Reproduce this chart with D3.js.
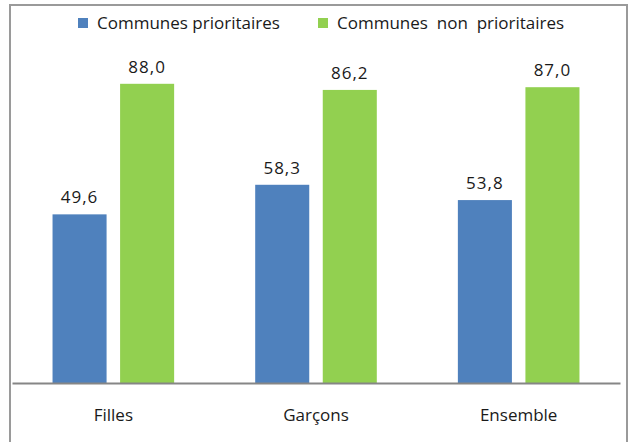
<!DOCTYPE html>
<html>
<head>
<meta charset="utf-8">
<script src="https://cdn.jsdelivr.net/npm/d3@7"></script>
<style>
  body { margin: 0; background: #fff; }
  text { font-family: "Open Sans", "Noto Sans", sans-serif; fill: #1a1a1a; }
</style>
</head>
<body>
<svg id="chart" width="629" height="442"></svg>
<script>
var categories = ["Filles", "Garçons", "Ensemble"];
var seriesNames = ["Communes prioritaires", "Communes  non  prioritaires"];
var prioritaires = [49.6, 58.3, 53.8];
var nonPrioritaires = [88.0, 86.2, 87.0];
var colors = ["#4f81bd", "#92d050"];

var svg = d3.select("#chart");

// outer frame (bottom edge falls outside the picture)
svg.append("rect")
  .attr("x", 10).attr("y", 5)
  .attr("width", 617).attr("height", 460)
  .attr("fill", "none")
  .attr("stroke", "#9a9a9a")
  .attr("stroke-width", 2);

var x0 = d3.scaleBand()
  .domain(categories)
  .range([12, 620])
  .paddingInner(0.4)
  .paddingOuter(0.2);

var x1 = d3.scaleBand()
  .domain([0, 1])
  .range([0, x0.bandwidth()])
  .paddingInner(0.2);

var y = d3.scaleLinear()
  .domain([0, 100])
  .range([383, 43]);

var groups = svg.selectAll("g.grp")
  .data(categories)
  .enter().append("g")
    .attr("class", "grp")
    .attr("transform", function(d) { return "translate(" + x0(d) + ",0)"; });

groups.selectAll("rect")
  .data(function(d, i) { return [prioritaires[i], nonPrioritaires[i]]; })
  .enter().append("rect")
    .attr("x", function(d, j) { return x1(j); })
    .attr("y", function(d) { return y(d); })
    .attr("width", x1.bandwidth())
    .attr("height", function(d) { return y(0) - y(d); })
    .attr("fill", function(d, j) { return colors[j]; });

groups.selectAll("text.val")
  .data(function(d, i) { return [prioritaires[i], nonPrioritaires[i]]; })
  .enter().append("text")
    .attr("class", "val")
    .attr("x", function(d, j) { return x1(j) + x1.bandwidth() / 2; })
    .attr("y", function(d) { return y(d) - 11; })
    .attr("text-anchor", "middle")
    .style("font-size", "17px")
    .style("letter-spacing", "1px")
    .text(function(d) { return d.toFixed(1).replace(".", ","); });

// category axis
var xAxis = svg.append("g")
  .attr("transform", "translate(0," + y(0) + ")")
  .call(d3.axisBottom(x0).tickSize(0).tickPadding(26));
xAxis.select(".domain").attr("stroke", "#868686").attr("stroke-width", 2);
xAxis.selectAll("text").style("font-size", "17px").attr("fill", "#1a1a1a");

// legend
var legend = svg.append("g");
var legendX = [78, 318];
seriesNames.forEach(function(name, i) {
  legend.append("rect")
    .attr("x", legendX[i]).attr("y", 18)
    .attr("width", 10).attr("height", 10)
    .attr("fill", colors[i]);
  legend.append("text")
    .attr("x", legendX[i] + 19).attr("y", 29)
    .style("font-size", "17px")
    .style("white-space", "pre")
    .text(name);
});
</script>
</body>
</html>
